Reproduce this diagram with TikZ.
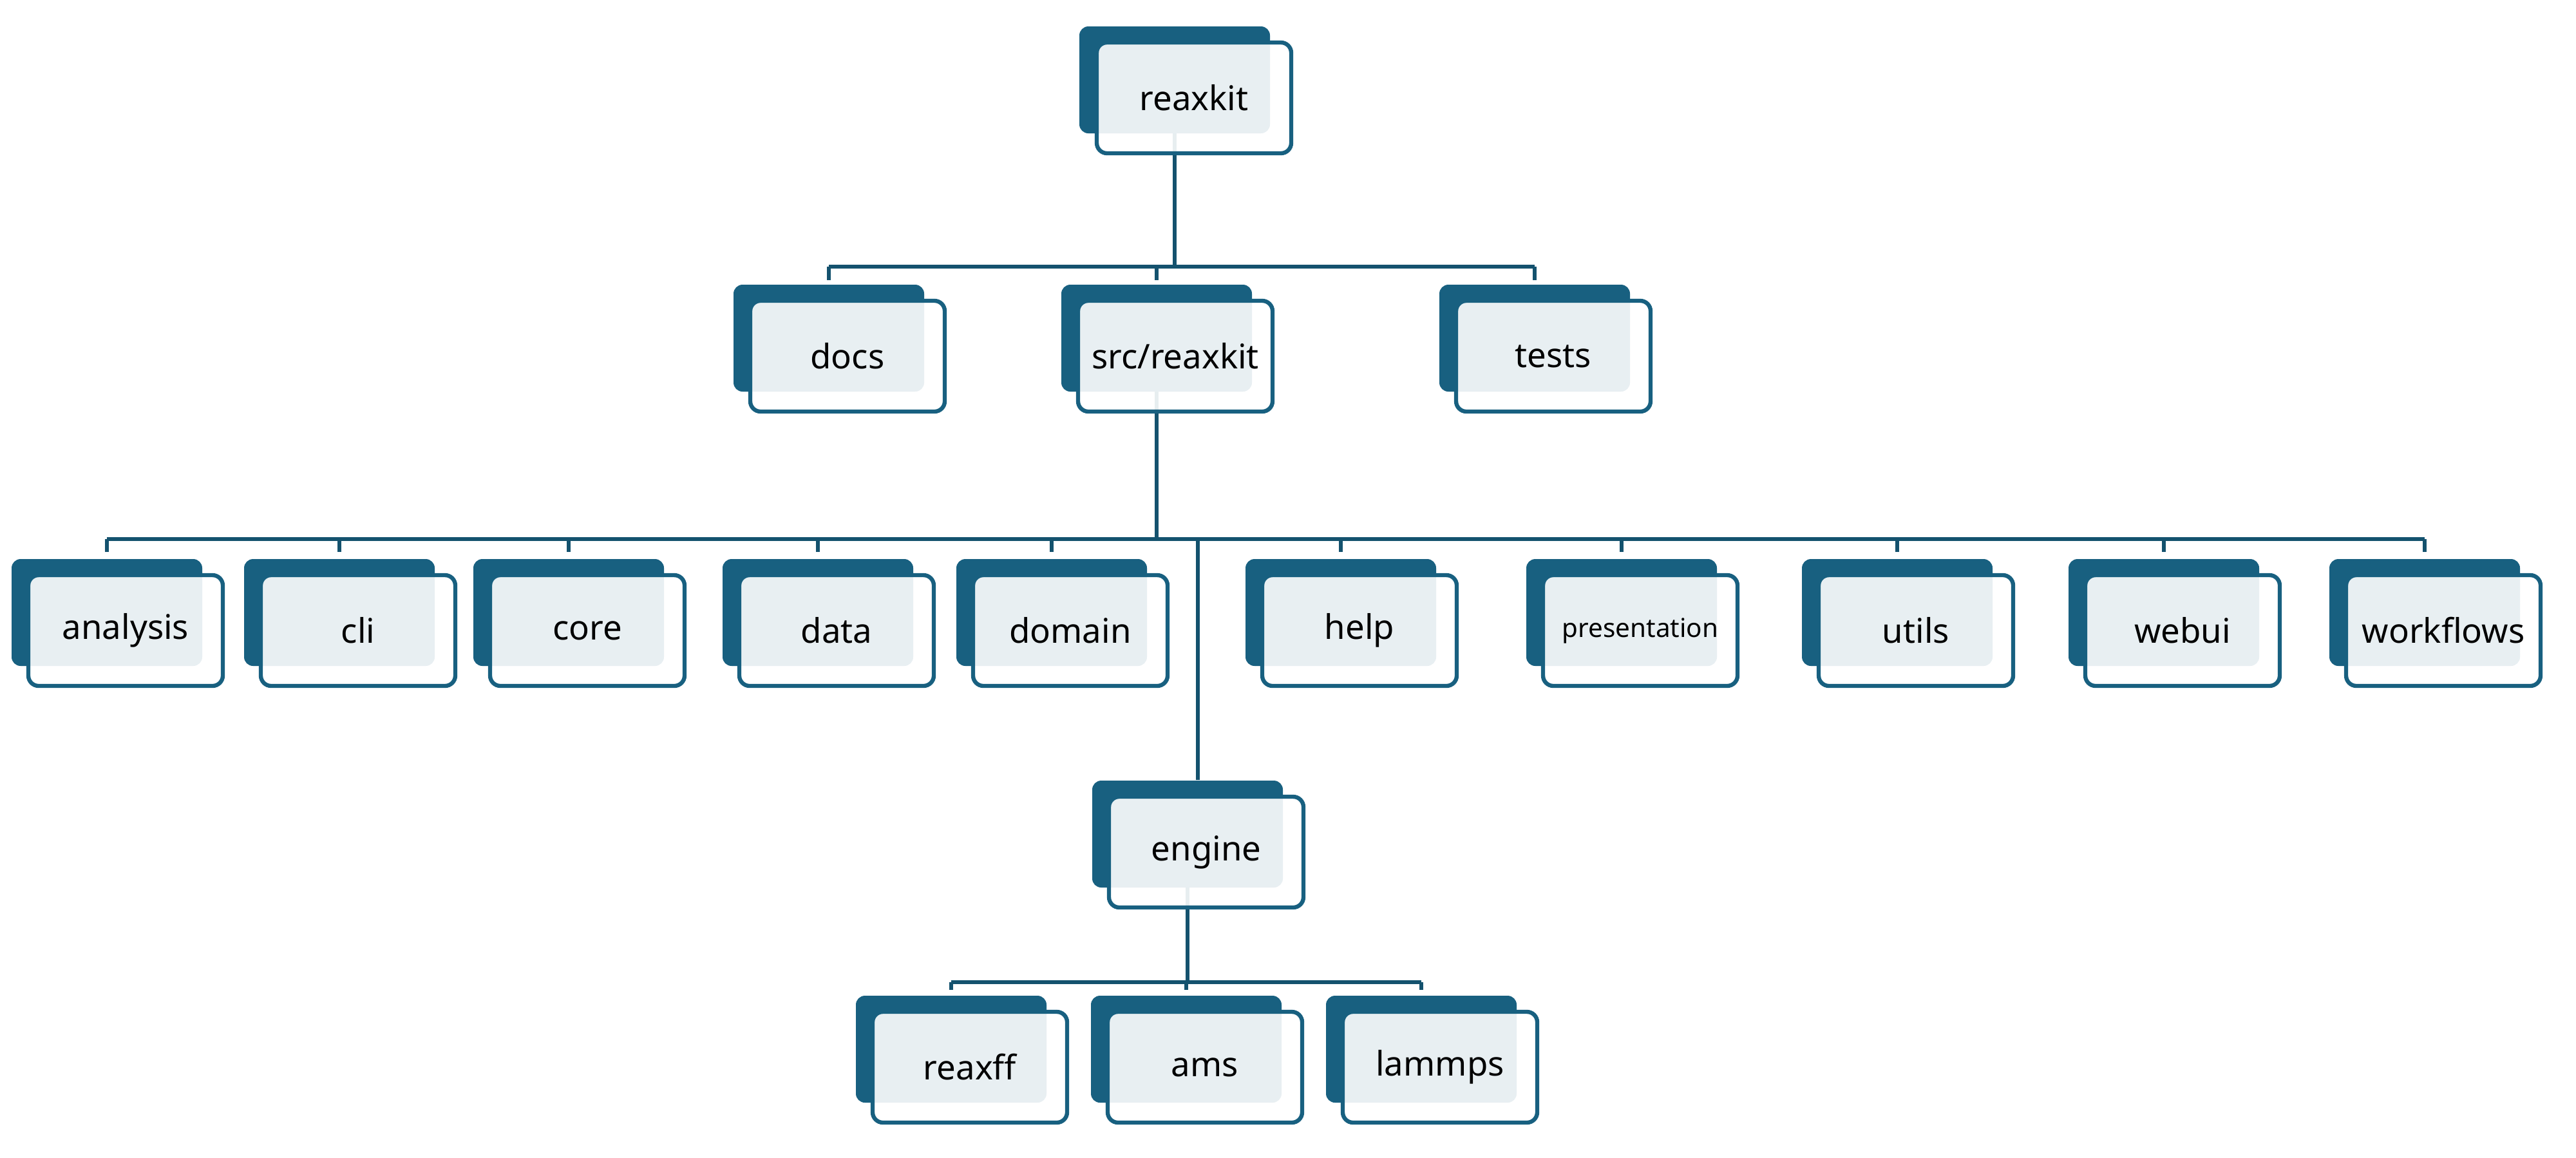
\documentclass[tikz,border=0pt]{standalone}
\usepackage{fontspec}
\setmainfont{Noto Sans}
\usetikzlibrary{backgrounds}
\definecolor{folderblue}{RGB}{24,96,128}
\definecolor{linkblue}{RGB}{20,82,110}

\begin{document}
\begin{tikzpicture}
    % Define styles
    \tikzstyle{back} = [rectangle, rounded corners=0.14cm, minimum width=2.96cm, minimum height=1.66cm, inner sep=0pt, fill=folderblue]
    \tikzstyle{front} = [rectangle, rounded corners=0.16cm, minimum width=3.02cm, minimum height=1.72cm, inner sep=0pt, draw=folderblue, line width=1.8pt, fill=white, fill opacity=0.9, text opacity=1, font=\fontsize{15}{18}\selectfont]
    \tikzstyle{link} = [draw=linkblue, line width=1.8pt]

    \useasboundingbox (0,0) rectangle (40,-17.97);

    % Nodes
    \node (reaxkit) [back] at (18.24,-1.24) {};
    \node (reaxkit_f) [front] at ([xshift=0.3cm, yshift=-0.28cm]reaxkit.center) {reaxkit};

    \node (docs) [back] at (12.87,-5.25) {};
    \node (docs_f) [front] at ([xshift=0.29cm, yshift=-0.28cm]docs.center) {docs};
    \node (src) [back] at (17.96,-5.25) {};
    \node (src_f) [front] at ([xshift=0.29cm, yshift=-0.28cm]src.center) {src/reaxkit};
    \node (tests) [back] at (23.83,-5.25) {};
    \node (tests_f) [front] at ([xshift=0.29cm, yshift=-0.28cm]tests.center) {tests};

    \node (analysis) [back] at (1.66,-9.51) {};
    \node (analysis_f) [front] at ([xshift=0.29cm, yshift=-0.28cm]analysis.center) {analysis};
    \node (cli) [back] at (5.27,-9.51) {};
    \node (cli_f) [front] at ([xshift=0.29cm, yshift=-0.28cm]cli.center) {cli};
    \node (core) [back] at (8.83,-9.51) {};
    \node (core_f) [front] at ([xshift=0.29cm, yshift=-0.28cm]core.center) {core};
    \node (data) [back] at (12.70,-9.51) {};
    \node (data_f) [front] at ([xshift=0.29cm, yshift=-0.28cm]data.center) {data};
    \node (domain) [back] at (16.33,-9.51) {};
    \node (domain_f) [front] at ([xshift=0.29cm, yshift=-0.28cm]domain.center) {domain};
    \node (help) [back] at (20.82,-9.51) {};
    \node (help_f) [front] at ([xshift=0.29cm, yshift=-0.28cm]help.center) {help};
    \node (presentation) [back] at (25.18,-9.51) {};
    \node (presentation_f) [front, font=\fontsize{11.5}{14}\selectfont] at ([xshift=0.29cm, yshift=-0.28cm]presentation.center) {presentation};
    \node (utils) [back] at (29.46,-9.51) {};
    \node (utils_f) [front] at ([xshift=0.29cm, yshift=-0.28cm]utils.center) {utils};
    \node (webui) [back] at (33.60,-9.51) {};
    \node (webui_f) [front] at ([xshift=0.29cm, yshift=-0.28cm]webui.center) {webui};
    \node (workflows) [back] at (37.65,-9.51) {};
    \node (workflows_f) [front] at ([xshift=0.29cm, yshift=-0.28cm]workflows.center) {workflows};

    \node (engine) [back] at (18.44,-12.95) {};
    \node (engine_f) [front] at ([xshift=0.29cm, yshift=-0.28cm]engine.center) {engine};

    \node (reaxff) [back] at (14.77,-16.29) {};
    \node (reaxff_f) [front] at ([xshift=0.29cm, yshift=-0.28cm]reaxff.center) {reaxff};
    \node (ams) [back] at (18.42,-16.29) {};
    \node (ams_f) [front] at ([xshift=0.29cm, yshift=-0.28cm]ams.center) {ams};
    \node (lammps) [back] at (22.07,-16.29) {};
    \node (lammps_f) [front] at ([xshift=0.29cm, yshift=-0.28cm]lammps.center) {lammps};

    % Connectors
    \coordinate (bus_top) at (0,-4.14);
    \coordinate (bus_src) at (0,-8.37);
    \coordinate (bus_engine) at (0,-15.25);
    \begin{scope}[on background layer]
        \draw [link] (reaxkit.center) -- (reaxkit |- bus_top);
        \draw [link] (docs |- bus_top) -- (tests |- bus_top);
        \draw [link] (docs |- bus_top) -- ([yshift=0.06cm]docs.north);
        \draw [link] (src |- bus_top) -- ([yshift=0.06cm]src.north);
        \draw [link] (tests |- bus_top) -- ([yshift=0.06cm]tests.north);

        \draw [link] (src.center) -- (src |- bus_src);
        \draw [link] (analysis |- bus_src) -- (workflows |- bus_src);
        \draw [link] (analysis |- bus_src) -- ([yshift=0.1cm]analysis.north);
        \draw [link] (cli |- bus_src) -- ([yshift=0.1cm]cli.north);
        \draw [link] (core |- bus_src) -- ([yshift=0.1cm]core.north);
        \draw [link] (data |- bus_src) -- ([yshift=0.1cm]data.north);
        \draw [link] (domain |- bus_src) -- ([yshift=0.1cm]domain.north);
        \draw [link] (help |- bus_src) -- ([yshift=0.1cm]help.north);
        \draw [link] (presentation |- bus_src) -- ([yshift=0.1cm]presentation.north);
        \draw [link] (utils |- bus_src) -- ([yshift=0.1cm]utils.north);
        \draw [link] (webui |- bus_src) -- ([yshift=0.1cm]webui.north);
        \draw [link] (workflows |- bus_src) -- ([yshift=0.1cm]workflows.north);
        \draw [link] ([xshift=0.16cm]engine.north |- bus_src) -- ([xshift=0.16cm]engine.north);

        \draw [link] (engine.center) -- (engine |- bus_engine);
        \draw [link] (reaxff |- bus_engine) -- (lammps |- bus_engine);
        \draw [link] (reaxff |- bus_engine) -- ([yshift=0.08cm]reaxff.north);
        \draw [link] (ams |- bus_engine) -- ([yshift=0.08cm]ams.north);
        \draw [link] (lammps |- bus_engine) -- ([yshift=0.08cm]lammps.north);
    \end{scope}
\end{tikzpicture}
\end{document}
